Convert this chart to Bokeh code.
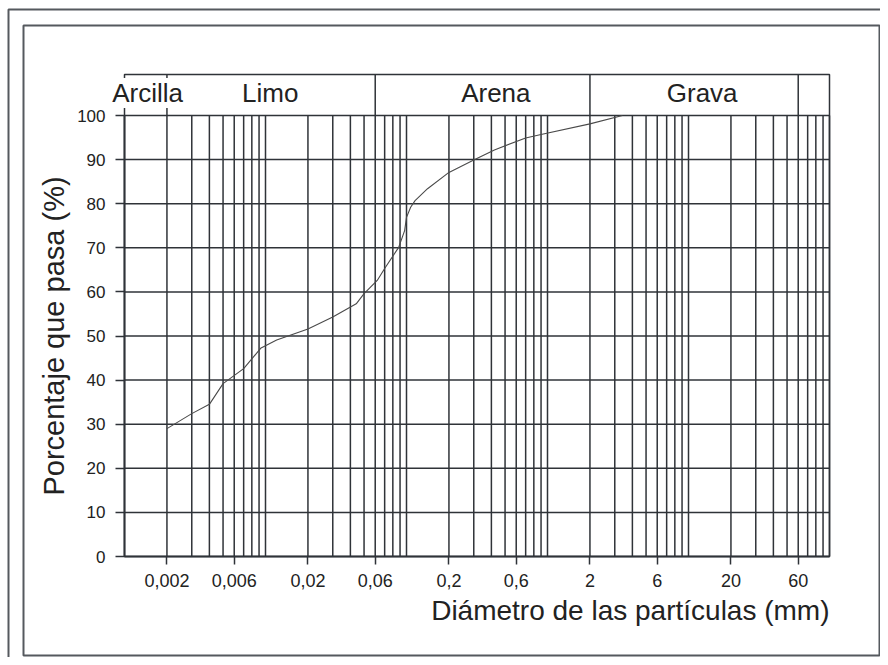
import math
from bokeh.plotting import figure
from bokeh.models import Range1d, FixedTicker, CustomJSTickFormatter, Label, BoxAnnotation
from bokeh.embed import file_html
from bokeh.resources import INLINE

# ---- data ----
diam_mm = [0.002, 0.003, 0.004, 0.005, 0.007, 0.0093, 0.012, 0.02, 0.03, 0.044,
           0.05, 0.062, 0.07, 0.088, 0.097, 0.1, 0.107, 0.115, 0.141, 0.2,
           0.3, 0.42, 0.7, 0.9, 2.0, 3.4]
pct_pasa = [29.0, 32.4, 34.5, 39.2, 42.6, 47.3, 49.1, 51.6, 54.3, 57.3,
            59.6, 62.6, 65.3, 70.1, 73.9, 76.9, 79.2, 80.7, 83.4, 87.1,
            89.9, 92.2, 94.9, 95.7, 98.1, 100.0]

x_tick_values = [0.002, 0.006, 0.02, 0.06, 0.2, 0.6, 2, 6, 20, 60]
y_tick_values = [0, 10, 20, 30, 40, 50, 60, 70, 80, 90, 100]
grid_multipliers = [1, 2, 3, 4, 5, 6, 7, 8, 9]
grid_decades = [0.001, 0.01, 0.1, 1, 10]
grid_x = [m * d for d in grid_decades for m in grid_multipliers] + [100]

class_names = ["Arcilla", "Limo", "Arena", "Grava"]
class_label_x = [0.00146, 0.0108, 0.43, 12.5]
class_bounds = [0.002, 0.06, 2, 60]

X_MIN, X_MAX = 0.001, 100
Y_MIN, Y_MAX = 0, 100

# ---- layout (pixels on the canvas) ----
W, H = 880, 657
PL, PR, PT, PB = 124, 829, 115, 556   # plot area edges
BAND_T = 74                            # top of the soil-class band
px_per_dec = (PR - PL) / (math.log10(X_MAX) - math.log10(X_MIN))
px_per_unit = (PB - PT) / (Y_MAX - Y_MIN)
x_lo = 10 ** (math.log10(X_MIN) - PL / px_per_dec)
x_hi = 10 ** (math.log10(X_MAX) + (W - PR) / px_per_dec)
y_lo = Y_MIN - (H - PB) / px_per_unit
y_hi = Y_MAX + PT / px_per_unit
band_top = Y_MAX + (PT - BAND_T) / px_per_unit
band_text_y = Y_MAX + (PT - 92.5) / px_per_unit
xtitle_y = Y_MIN - (610 - PB) / px_per_unit

FONT = "Liberation Sans"
LINE = "#2f3338"
TEXT = "#222222"
FRAME = "#55595e"

p = figure(width=W, height=H, x_axis_type="log", title=None,
           x_range=Range1d(x_lo, x_hi), y_range=Range1d(y_lo, y_hi),
           output_backend="svg", toolbar_location=None,
           min_border_left=0, min_border_right=0,
           min_border_top=0, min_border_bottom=0)
p.background_fill_color = "white"
p.border_fill_color = "white"
p.outline_line_color = None
p.xgrid.visible = False
p.ygrid.visible = False

# grid lines
p.segment(x0=grid_x, y0=Y_MIN, x1=grid_x, y1=Y_MAX, line_color=LINE, line_width=1.5)
p.segment(x0=X_MIN, y0=y_tick_values, x1=X_MAX, y1=y_tick_values, line_color=LINE, line_width=1.5)
p.segment(x0=class_bounds, y0=Y_MAX, x1=class_bounds, y1=band_top, line_color=LINE, line_width=1.5)

# curve
p.line(diam_mm, pct_pasa, line_color="#4a4a4a", line_width=1.1)

# axes
xa = p.xaxis[0]
xa.fixed_location = Y_MIN
xa.bounds = (X_MIN, X_MAX)
xa.ticker = FixedTicker(ticks=x_tick_values, minor_ticks=[])
xa.formatter = CustomJSTickFormatter(code="return tick.toString().replace('.', ',');")
xa.major_tick_out = 8
xa.major_tick_in = 0
xa.minor_tick_out = 0
xa.minor_tick_in = 0
xa.axis_line_color = LINE
xa.axis_line_width = 1.5
xa.major_tick_line_color = LINE
xa.major_tick_line_width = 1.5
xa.major_label_standoff = 9
xa.major_label_text_font = FONT
xa.major_label_text_font_size = "18px"
xa.major_label_text_color = TEXT

ya = p.yaxis[0]
ya.fixed_location = X_MIN
ya.bounds = (Y_MIN, Y_MAX)
ya.ticker = FixedTicker(ticks=y_tick_values, minor_ticks=[])
ya.major_tick_out = 9
ya.major_tick_in = 0
ya.minor_tick_out = 0
ya.minor_tick_in = 0
ya.axis_line_color = LINE
ya.axis_line_width = 1.5
ya.major_tick_line_color = LINE
ya.major_tick_line_width = 1.5
ya.major_label_standoff = 10
ya.major_label_text_font = FONT
ya.major_label_text_font_size = "17px"
ya.major_label_text_color = TEXT
ya.axis_label = "Porcentaje que pasa (%)"
ya.axis_label_text_font = FONT
ya.axis_label_text_font_size = "29px"
ya.axis_label_text_font_style = "normal"
ya.axis_label_text_color = TEXT
ya.axis_label_standoff = 4

# plot rectangle including the class band
p.add_layout(BoxAnnotation(left=X_MIN, right=X_MAX, bottom=Y_MIN, top=band_top,
                           fill_alpha=0, fill_color=None,
                           line_color=LINE, line_alpha=1.0, line_width=1.5))

# soil class labels in the top band
for name, lx in zip(class_names, class_label_x):
    p.add_layout(Label(x=lx, y=band_text_y, text=name, text_align="center",
                       text_baseline="middle", text_font=FONT,
                       text_font_size="26px", text_color=TEXT,
                       background_fill_color="white", background_fill_alpha=1.0))

# x title (right aligned under the plot)
p.add_layout(Label(x=X_MAX, y=xtitle_y, text="Diámetro de las partículas (mm)",
                   text_align="right", text_baseline="middle", text_font=FONT,
                   text_font_size="28px", text_color=TEXT))

# frames around the picture
p.add_layout(BoxAnnotation(left=23, right=W - 1, top=25, bottom=655,
                           left_units="canvas", right_units="canvas",
                           top_units="canvas", bottom_units="canvas",
                           fill_alpha=0, fill_color=None,
                           line_color=FRAME, line_alpha=1.0, line_width=2))
p.add_layout(BoxAnnotation(left=8, right=W + 50, top=9, bottom=H + 50,
                           left_units="canvas", right_units="canvas",
                           top_units="canvas", bottom_units="canvas",
                           fill_alpha=0, fill_color=None,
                           line_color=FRAME, line_alpha=1.0, line_width=2))

open("out.html", "w").write(file_html(p, INLINE))
